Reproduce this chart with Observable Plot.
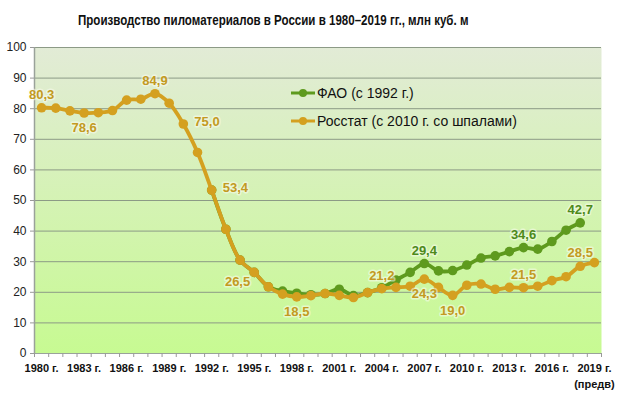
<!DOCTYPE html>
<html><head><meta charset="utf-8">
<script src="https://cdn.jsdelivr.net/npm/d3@7"></script>
<script src="https://cdn.jsdelivr.net/npm/@observablehq/plot@0.6"></script>
<style>
body{margin:0;background:#fff;font-family:Arial,"Liberation Sans",sans-serif;}
#wrap{position:relative;width:620px;height:398px;}
#title{position:absolute;left:78px;top:11px;font:bold 15px Arial,"Liberation Sans",sans-serif;color:#111;white-space:nowrap;transform:scaleX(0.77);transform-origin:0 0;}
#chart{position:absolute;left:0;top:36px;}
.leg{position:absolute;left:290px;font:14px Arial,"Liberation Sans",sans-serif;color:#111;display:flex;align-items:center;white-space:nowrap;}
.leg svg{margin-right:1px;}
</style></head>
<body><div id="wrap"><div id="title">Производство пиломатериалов в России в 1980–2019 гг., млн куб. м</div><div id="chart"></div>
<div class="leg" style="top:85px"><svg width="26" height="12"><line x1="1" x2="25" y1="6" y2="6" stroke="#5E9A1E" stroke-width="3"/><circle cx="13" cy="6" r="4" fill="#5E9A1E"/></svg><span id="l1"></span></div>
<div class="leg" style="top:113px"><svg width="26" height="12"><line x1="1" x2="25" y1="6" y2="6" stroke="#D4A020" stroke-width="3"/><circle cx="13" cy="6" r="4" fill="#D4A020"/></svg><span id="l2"></span></div>
</div>
<script>
const seriesNames = ["ФАО (с 1992 г.)", "Росстат (с 2010 г. со шпалами)"];
const rosstatYears = d3.range(1980, 2020);
const rosstatValues = [80.3,80.2,79.3,78.6,78.7,79.4,82.8,83.1,84.9,81.8,
  75.0,65.7,53.4,40.6,30.5,26.5,21.8,19.4,18.5,18.9,
  19.6,19.0,18.3,19.9,21.2,21.6,22.0,24.3,21.6,19.0,
  22.3,22.7,21.0,21.6,21.5,22.0,23.8,25.1,28.5,29.7];
const faoYears = d3.range(1992, 2019);
const faoValues = [53.4,40.6,30.5,26.5,21.8,20.4,19.7,19.2,
  19.6,21.0,18.9,19.9,21.5,24.0,26.5,29.4,27.0,27.1,
  28.9,31.2,31.9,33.3,34.6,34.1,36.6,40.3,42.7];
const yTicks = [0,10,20,30,40,50,60,70,80,90,100];
const xTickYears = [1980,1983,1986,1989,1992,1995,1998,2001,2004,2007,2010,2013,2016,2019];
const xTickSuffix = " г.";
const lastTickNote = "(предв)";
// labelled points
const rosstatAbove = [1980,1988,2004,2014,2018];
const rosstatBelow = [1983,1998,2007,2009];
const rosstatRight = [1990,1992];
const rosstatLeft = [1995];
const faoAbove = [2007,2014,2018];

document.getElementById("l1").textContent = seriesNames[0];
document.getElementById("l2").textContent = seriesNames[1];

const ros = rosstatYears.map((y,i)=>({year:y, value:rosstatValues[i]}));
const fao = faoYears.map((y,i)=>({year:y, value:faoValues[i]}));
const fmt = d => d.value.toFixed(1).replace(".", ",");
const pick = (data, years) => data.filter(d => years.includes(d.year));
const edges = d3.range(rosstatYears[0]-0.5, rosstatYears[rosstatYears.length-1]+1, 1);

const GREEN = "#5E9A1E", GOLD = "#D4A020", LGOLD = "#C39A22", LGREEN = "#4E8A1C";
const labelStyle = {fontSize:13, fontWeight:"bold", stroke:"#FAFCF0", strokeWidth:3, strokeOpacity:0.55, fontFamily:"Arial, Liberation Sans, sans-serif"};

const plot = Plot.plot({
  width:620, height:362,
  marginLeft:34, marginRight:19, marginTop:11, marginBottom:45,
  x:{domain:[1979.5, 2019.5]},
  y:{domain:[0,100]},
  style:{fontFamily:"Arial, Liberation Sans, sans-serif", background:"transparent", color:"#222"},
  marks:[
    () => { const s = d3.create("svg:defs"); const g = s.append("linearGradient").attr("id","bg").attr("x1",0).attr("x2",0).attr("y1",0).attr("y2",1);
      g.append("stop").attr("offset","0%").attr("stop-color","#E2EBD6");
      g.append("stop").attr("offset","100%").attr("stop-color","#C7FA92"); return s.node(); },
    Plot.frame({fill:"url(#bg)", stroke:null}),
    Plot.ruleY(yTicks.filter(d=>d>0), {stroke:"#8C9A86", strokeWidth:1}),
    Plot.ruleY([0], {stroke:"#9AA29A", strokeWidth:1}),
    Plot.ruleX([1979.5], {stroke:"#9AA29A", strokeWidth:1.5}),
    Plot.axisY({ticks:yTicks, tickSize:4, tickPadding:4, fontSize:12, label:null, stroke:"#999"}),
    Plot.axisX({ticks:edges, tickSize:4, tickFormat:()=>"", label:null, stroke:"#999"}),
    Plot.axisX({ticks:xTickYears, tickSize:0, tickPadding:11, tickFormat:d=>d+xTickSuffix, fontSize:11, fontWeight:"bold", label:null, fill:"#111"}),
    Plot.text([rosstatYears[rosstatYears.length-1]], {x:d=>d, y:()=>0, text:()=>lastTickNote, dy:31, fontSize:11, fontWeight:"bold", fill:"#111"}),
    Plot.line(fao, {x:"year", y:"value", stroke:GREEN, strokeWidth:3.8, curve:"catmull-rom"}),
    Plot.dot(fao, {x:"year", y:"value", r:4.8, fill:GREEN}),
    Plot.line(ros, {x:"year", y:"value", stroke:GOLD, strokeWidth:3.8, curve:"catmull-rom"}),
    Plot.dot(ros, {x:"year", y:"value", r:4.8, fill:GOLD}),
    Plot.text(pick(ros, rosstatAbove), {x:"year", y:"value", text:fmt, dy:-13, fill:LGOLD, ...labelStyle}),
    Plot.text(pick(ros, rosstatBelow), {x:"year", y:"value", text:fmt, dy:15, fill:LGOLD, ...labelStyle}),
    Plot.text(pick(ros, rosstatRight), {x:"year", y:"value", text:fmt, dx:11, dy:-2, textAnchor:"start", fill:LGOLD, ...labelStyle}),
    Plot.text(pick(ros, rosstatLeft), {x:"year", y:"value", text:fmt, dx:-4, dy:9, textAnchor:"end", fill:LGOLD, ...labelStyle}),
    Plot.text(pick(fao, faoAbove), {x:"year", y:"value", text:fmt, dy:-13, fill:LGREEN, ...labelStyle})
  ]
});
document.getElementById("chart").appendChild(plot);
</script>
</body></html>
